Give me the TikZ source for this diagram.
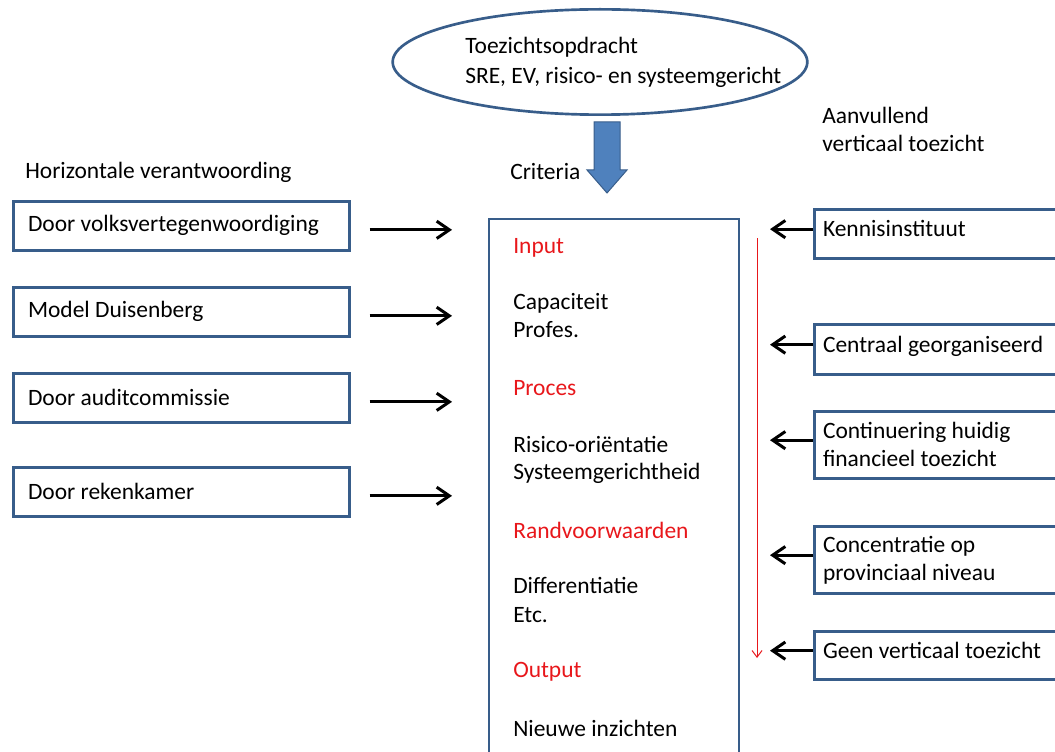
\documentclass[tikz,border=0pt]{standalone}
\usepackage{fontspec}
\setmainfont{Carlito}
\usetikzlibrary{arrows.meta,shapes.geometric}
\definecolor{boxblue}{HTML}{385D8A}
\definecolor{fillblue}{HTML}{4F81BD}
\definecolor{critred}{HTML}{E8171B}
\tikzset{
        hbox/.style={draw=boxblue, line width=2pt, fill=white, anchor=north west,
                text width=230pt, inner xsep=11pt, align=flush left, minimum height=36.75pt},
        vbox/.style={draw=boxblue, line width=2pt, fill=white, anchor=north west,
                text width=230pt, inner xsep=6.5pt, align=flush left},
        vone/.style={text depth=8pt},
        vtwo/.style={yshift=0pt},
        label/.style={inner sep=0pt, anchor=west, align=flush left},
        harrow/.style={line width=2.25pt, -{Straight Barb[length=9.5pt, width=13pt]}},
        redarrow/.style={critred, line width=0.75pt, -{Straight Barb[length=5pt, width=7.5pt]}}
}
\begin{document}
\begin{tikzpicture}[x=0.75pt, y=-0.75pt, font=\fontsize{17.6}{21}\selectfont]
        \useasboundingbox (0,0) rectangle (1055,752);
        \clip (0,0) rectangle (1055,752);
        % toezichtsopdracht
        \node[draw=boxblue, line width=2pt, ellipse, minimum width=311pt, minimum height=79pt] (opdracht) at (600,62) {};
        \node[label, font=\fontsize{17.6}{22.5}\selectfont] (opdrtekst) at (465,62) {Toezichtsopdracht\\SRE, EV, risico- en systeemgericht};
        \filldraw[fill=fillblue, draw=boxblue, line width=0.75pt] (594,122) -- (620,122) -- (620,170) -- (627,170) -- (607,193) -- (587,170) -- (594,170) -- cycle;
        \node[label] (criteria) at (510,172) {Criteria};
        \node[label] (horizontaal) at (25,172) {Horizontale verantwoording};
        \node[label] (verticaal) at (822,129) {Aanvullend\\verticaal toezicht};
        % criteria
        \node[draw=boxblue, line width=1.5pt, anchor=north west, minimum width=187.5pt, minimum height=420pt] (crit) at (488,218) {};
        \foreach \y/\t/\c [count=\i] in {248/Input/critred, 303/Capaciteit/black, 330/Profes./black,
                        388/Proces/critred, 444/Risico-oriëntatie/black, 473/Systeemgerichtheid/black,
                        530/Randvoorwaarden/critred, 585/Differentiatie/black, 615/Etc./black,
                        672/Output/critred, 728/Nieuwe inzichten/black} {
                \node[label, text=\c] (item\i) at (513,\y) {\t};
            }
        % horizontaal
        \foreach \n/\y/\t in {1/200/Door volksvertegenwoordiging, 2/286/Model Duisenberg,
                        3/372/Door auditcommissie, 4/466/Door rekenkamer} {
                \node[hbox] (h\n) at (12,\y) {\t};
                \draw[harrow, shorten <=14.25pt, shorten >=27pt] ([yshift=-3pt]h\n.east) -- ([yshift=-3pt]h\n.east -| crit.west);
            }
        % verticaal
        \foreach \n/\y/\h/\s/\t in {1/208/49/vone/Kennisinstituut, 2/323/50/vone/Centraal georganiseerd,
                        3/410/67/vtwo/{Continuering huidig\\financieel toezicht},
                        4/525/67/vtwo/{Concentratie op\\provinciaal niveau},
                        5/630/48/vone/Geen verticaal toezicht} {
                \node[vbox, \s, minimum height=\h*0.75pt] (v\n) at (813,\y) {\t};
                \draw[harrow, shorten >=22.5pt] ([yshift=3.5pt]v\n.west) -- ([yshift=3.5pt]v\n.west -| crit.east);
            }
        \coordinate (rtop) at (757,238);
        \coordinate (rbot) at (757,658);
        \draw[redarrow] (rtop) -- (rbot);
    \end{tikzpicture}
\end{document}
